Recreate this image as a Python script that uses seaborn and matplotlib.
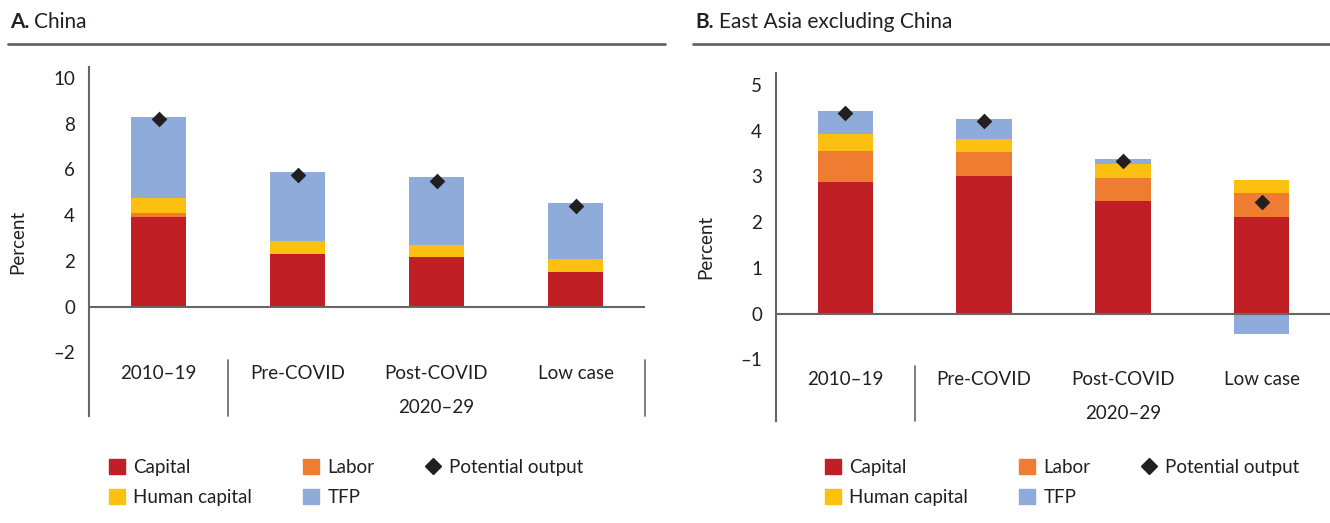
import numpy as np
import matplotlib
matplotlib.use("Agg")
import matplotlib.pyplot as plt
import matplotlib.transforms as mtransforms
from matplotlib.lines import Line2D
from matplotlib.patches import Patch
import seaborn as sns

# data (percent)
periods = ["2010–19", "Pre-COVID", "Post-COVID", "Low case"]
group_label = "2020–29"

china_capital = [3.90, 2.28, 2.15, 1.53]
china_labor = [0.20, -0.08, -0.08, -0.08]
china_human = [0.67, 0.58, 0.54, 0.53]
china_tfp = [3.51, 3.04, 2.97, 2.47]
china_potential = [8.22, 5.74, 5.50, 4.38]

ea_capital = [2.87, 3.01, 2.45, 2.12]
ea_labor = [0.69, 0.53, 0.52, 0.52]
ea_human = [0.36, 0.28, 0.29, 0.28]
ea_tfp = [0.50, 0.43, 0.11, -0.45]
ea_potential = [4.39, 4.22, 3.34, 2.44]

colors = {"Capital": "#C01F26", "Labor": "#EE7D31",
          "Human capital": "#FCC010", "TFP": "#8FABD9"}
diamond_color = "#231F20"
grey = "#666666"
text_color = "#231F20"

sns.set_theme(style="white")
plt.rcParams["font.family"] = ["Lato", "DejaVu Sans"]
plt.rcParams["text.color"] = text_color
plt.rcParams["axes.labelcolor"] = text_color
plt.rcParams["xtick.color"] = text_color
plt.rcParams["ytick.color"] = text_color

W, H = 1330, 523
fig = plt.figure(figsize=(W / 100, H / 100), dpi=100)
FS = 13.5


def px_axes(l, t, r, b):
    return fig.add_axes([l / W, 1 - b / H, (r - l) / W, (b - t) / H])


def stacked(ax, series):
    pos = np.zeros(len(periods))
    neg = np.zeros(len(periods))
    for name, vals in series:
        vals = np.asarray(vals, dtype=float)
        bottom = np.where(vals >= 0, pos, neg)
        sns.barplot(x=periods, y=vals, bottom=bottom, color=colors[name],
                    saturation=1, width=0.4, linewidth=0, errorbar=None, ax=ax)
        pos += np.clip(vals, 0, None)
        neg += np.clip(vals, None, 0)


def panel(ax, series, potential, ylim, yticks, seps, label_y, group_y, sep_top):
    stacked(ax, series)
    sns.stripplot(x=periods, y=potential, marker="D", size=8, color=diamond_color,
                  jitter=False, linewidth=0, zorder=5, ax=ax)
    ax.set_xlim(-0.5, 3.5)
    ax.set_ylim(*ylim)
    ax.set_yticks(yticks)
    ax.set_yticklabels([f"{t:d}".replace("-", "–") for t in yticks], fontsize=FS)
    ax.tick_params(axis="y", length=0, pad=10)
    ax.tick_params(axis="x", length=0, pad=-label_y, labelsize=FS)
    ax.set_xlabel("")
    ax.set_ylabel("Percent", fontsize=FS)
    ax.yaxis.set_label_coords(-0.112, 0.5)
    for s in ["top", "right", "bottom"]:
        ax.spines[s].set_visible(False)
    ax.spines["left"].set_color(grey)
    ax.spines["left"].set_linewidth(1.5)
    ax.axhline(0, color=grey, lw=1.5, zorder=4)
    for x in seps:
        ax.axvline(x, ymin=0, ymax=sep_top, color=grey, lw=1.2, clip_on=False)
    tr = mtransforms.blended_transform_factory(ax.transData, ax.transAxes)
    ax.text(2, group_y, group_label, transform=tr, ha="center", va="center", fontsize=FS)


ax1 = px_axes(89, 67, 645, 416)
panel(ax1,
      [("Capital", china_capital), ("Labor", china_labor),
       ("Human capital", china_human), ("TFP", china_tfp)],
      china_potential, (-4.79, 10.48), list(range(-2, 11, 2)),
      [0.5, 3.5], 37, 0.023, 0.16)

ax2 = px_axes(776, 73, 1331, 421)
panel(ax2,
      [("Capital", ea_capital), ("Labor", ea_labor),
       ("Human capital", ea_human), ("TFP", ea_tfp)],
      ea_potential, (-2.35, 5.26), list(range(-1, 6)),
      [0.5], 36, 0.022, 0.157)

# panel titles with rules
fig.canvas.draw()
renderer = fig.canvas.get_renderer()
for x0, x1, letter, name in [(10, 665, "A.", "China"),
                             (695, 1330, "B.", "East Asia excluding China")]:
    t = fig.text(x0 / W, 1 - 22 / H, letter, fontsize=15, fontweight="bold", va="center")
    bb = t.get_window_extent(renderer)
    fig.text((bb.x1 + 5) / W, 1 - 22 / H, name, fontsize=15, va="center")
    fig.add_artist(Line2D([(x0 - 2) / W, x1 / W], [1 - 44 / H, 1 - 44 / H],
                          color=grey, lw=2, transform=fig.transFigure))

# legends
handles = [Patch(color=colors["Capital"], label="Capital"),
           Patch(color=colors["Human capital"], label="Human capital"),
           Patch(color=colors["Labor"], label="Labor"),
           Patch(color=colors["TFP"], label="TFP"),
           Line2D([], [], marker="D", ls="", color=diamond_color, markersize=8.5,
                  label="Potential output")]
for x in [109, 825]:
    fig.legend(handles=handles, ncol=3, loc="upper left",
               bbox_to_anchor=(x / W, 1 - 459 / H), frameon=False, fontsize=FS,
               borderpad=0, borderaxespad=0, handlelength=0.85, handleheight=0.85,
               handletextpad=0.45, columnspacing=2.7, labelspacing=0.7)

fig.savefig("out.png", dpi=100)
